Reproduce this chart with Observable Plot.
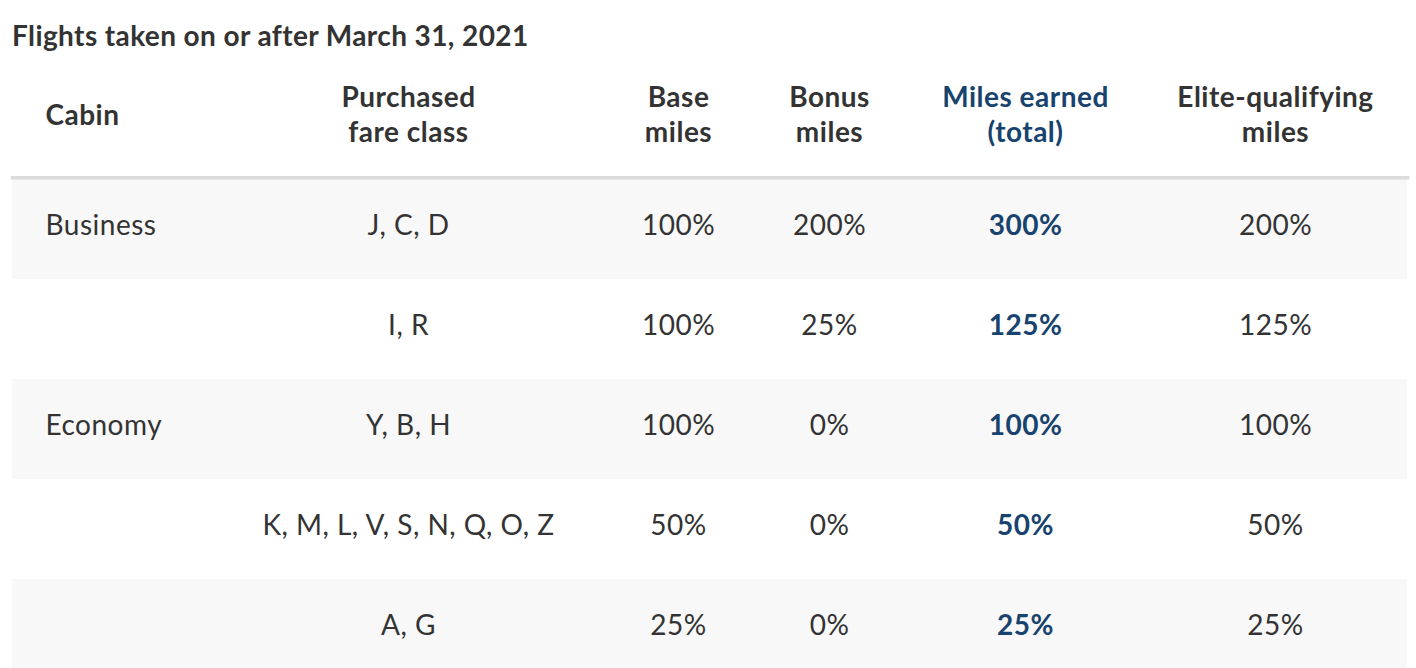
<!DOCTYPE html>
<html>
<head>
<meta charset="utf-8">
<script src="https://cdn.jsdelivr.net/npm/d3@7"></script>
<script src="https://cdn.jsdelivr.net/npm/@observablehq/plot@0.6"></script>
<style>
  html, body { margin: 0; padding: 0; background: white; overflow: hidden; }
  #title { font-family: Lato, sans-serif; font-weight: 700; font-size: 28px; line-height: 28px;
           letter-spacing: 0.4px; color: #333333; padding: 21px 0 0 12px; height: 39px; box-sizing: content-box; }
</style>
</head>
<body>
<div id="title">Flights taken on or after March 31, 2021</div>
<div id="chart"></div>
<script>
// ---- data ----
const cabins = ["Business", "", "Economy", "", ""];
const fareClasses = ["J, C, D", "I, R", "Y, B, H", "K, M, L, V, S, N, Q, O, Z", "A, G"];
const baseMiles = [100, 100, 100, 50, 25];
const bonusMiles = [200, 25, 0, 0, 0];
const milesEarned = [300, 125, 100, 50, 25];
const eliteMiles = [200, 125, 100, 50, 25];
const columnKeys = ["cabin", "fare", "base", "bonus", "total", "elite"];
const headers = ["Cabin", "Purchased\nfare class", "Base\nmiles", "Bonus\nmiles", "Miles earned\n(total)", "Elite-qualifying\nmiles"];

// ---- layout (table units from the table's left edge) ----
const colX = {cabin: 33, fare: 396, base: 666, bonus: 817, total: 1013, elite: 1263};
const dark = "#333333", blue = "#18436e";
const font = "Lato, sans-serif";
const fs = 28;

const rows = cabins.map((c, i) => ({
  id: i, cabin: c, fare: fareClasses[i],
  base: baseMiles[i] + "%", bonus: bonusMiles[i] + "%",
  total: milesEarned[i] + "%", elite: eliteMiles[i] + "%"
}));
const cells = rows.flatMap(r => columnKeys.map(k => ({id: r.id, col: k, text: r[k]})));
const heads = columnKeys.map((k, i) => ({col: k, text: headers[i]}));

const bodyText = {fontSize: fs, fontFamily: font, dy: -3};
const headText = {frameAnchor: "top", dy: -66, lineAnchor: "middle", lineHeight: 35 / fs,
                  fontSize: fs, fontFamily: font, fontWeight: 700};

const marks = [
  Plot.cell(rows.filter((d, i) => i % 2 === 0), {y: "id", fill: "#f8f8f8"}),
  Plot.frame({anchor: "top", stroke: "#dcdcdc", strokeWidth: 3.5, dy: -1.75}),
  Plot.text(cells.filter(d => d.col === "cabin"), {
    x: d => colX[d.col], y: "id", text: "text", textAnchor: "start",
    fill: dark, fontWeight: 400, ...bodyText
  }),
  Plot.text(cells.filter(d => d.col !== "total" && d.col !== "cabin"), {
    x: d => colX[d.col], y: "id", text: "text",
    fill: dark, fontWeight: 400, ...bodyText
  }),
  Plot.text(cells.filter(d => d.col === "total"), {
    x: d => colX[d.col], y: "id", text: "text",
    fill: blue, fontWeight: 700, ...bodyText
  }),
  Plot.text(heads.filter(d => d.col === "cabin"), {
    x: d => colX[d.col], text: "text", textAnchor: "start", fill: dark, ...headText
  }),
  Plot.text(heads.filter(d => d.col !== "cabin"), {
    x: d => colX[d.col], text: "text",
    fill: d => d.col === "total" ? blue : dark, ...headText
  })
];

const chart = Plot.plot({
  width: 1416, height: 619,
  marginTop: 119, marginBottom: 0, marginLeft: 12, marginRight: 9,
  x: {domain: [0, 1395], axis: null},
  y: {type: "band", domain: rows.map(d => d.id), padding: 0, axis: null},
  color: {type: "identity"},
  style: {fontFamily: font, background: "white", overflow: "visible", letterSpacing: "0.5px"},
  marks
});
document.getElementById("chart").appendChild(chart);
</script>
</body>
</html>
